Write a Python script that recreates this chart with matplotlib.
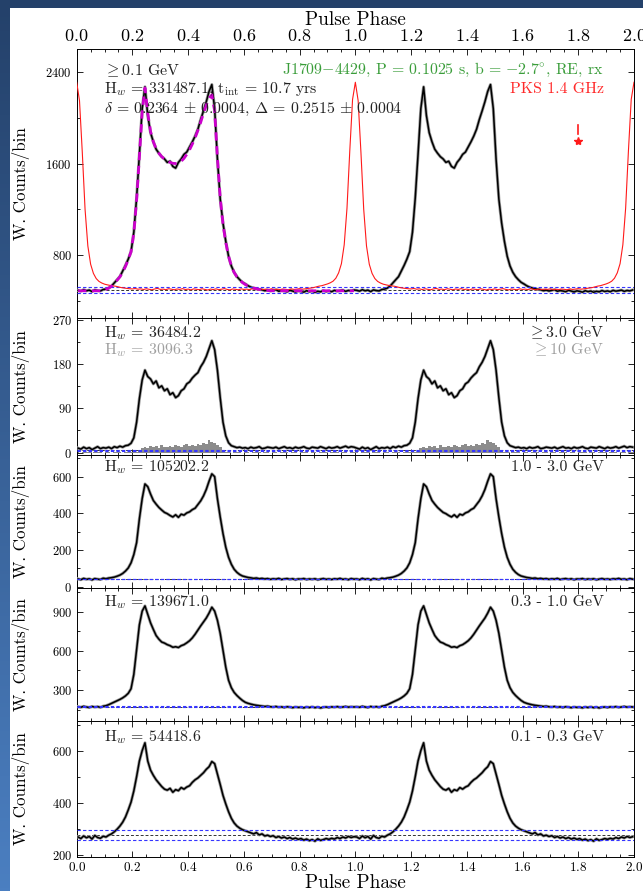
import numpy as np
import matplotlib.pyplot as plt
from matplotlib.colors import LinearSegmentedColormap
from matplotlib.patches import Rectangle
from matplotlib.ticker import MultipleLocator, NullFormatter

plt.rcParams['font.family'] = 'serif'
plt.rcParams['font.serif'] = ['cmr10', 'DejaVu Serif']
plt.rcParams['mathtext.fontset'] = 'cm'
plt.rcParams['axes.formatter.use_mathtext'] = True
plt.rcParams['axes.unicode_minus'] = False

# weighted counts per bin, 100 bins over one rotation (drawn twice)
counts_01 = [492, 485, 498, 488, 494, 481, 496, 490, 487, 499,
             503, 512, 530, 558, 585, 612, 660, 710, 765, 830,
             1000, 1300, 1680, 2080, 2270, 2020, 1870, 1790, 1725, 1690,
             1660, 1640, 1610, 1620, 1575, 1560, 1610, 1640, 1680, 1700,
             1745, 1790, 1840, 1900, 1985, 2060, 2140, 2230, 2290, 2080,
             1640, 1290, 1080, 920, 790, 705, 650, 612, 585, 562,
             548, 532, 520, 512, 506, 500, 497, 489, 494, 486,
             492, 498, 484, 490, 486, 480, 493, 485, 478, 488,
             483, 476, 489, 481, 486, 475, 484, 479, 490, 482,
             487, 480, 492, 485, 489, 494, 483, 491, 487, 495]

# two-peak model for >= 0.1 GeV (first rotation only)
model_01 = [488, 488, 488, 488, 488, 488, 488, 488, 488, 488,
            500, 512, 528, 552, 580, 610, 650, 700, 760, 830,
            990, 1280, 1660, 2050, 2260, 2040, 1880, 1790, 1730, 1690,
            1660, 1640, 1622, 1610, 1602, 1600, 1605, 1620, 1645, 1680,
            1720, 1770, 1825, 1890, 1960, 2040, 2110, 2170, 2200, 2060,
            1650, 1300, 1070, 910, 790, 705, 648, 610, 582, 560,
            543, 530, 520, 512, 506, 500, 496, 493, 491, 489,
            488, 488, 488, 488, 488, 488, 488, 488, 488, 488,
            488, 488, 488, 488, 488, 488, 488, 488, 488, 488,
            488, 488, 488, 488, 488, 488, 488, 488, 488, 488]

# Parkes 1.4 GHz profile, sampled at phase 0.00, 0.01, ... 0.99
radio_14 = [2310, 2150, 1700, 1200, 880, 720, 640, 595, 570, 556,
            546, 540, 535, 531, 528, 522, 516, 512, 509, 506,
            504, 508, 502, 505, 499, 506, 501, 497, 504, 509,
            500, 503, 498, 506, 502, 497, 504, 500, 507, 499,
            503, 496, 505, 501, 498, 506, 500, 495, 503, 499,
            505, 498, 502, 507, 500, 496, 504, 501, 497, 505,
            500, 503, 498, 506, 501, 497, 504, 499, 503, 500,
            506, 498, 502, 499, 504, 501, 497, 505, 500, 503,
            507, 502, 505, 509, 512, 516, 523, 529, 533, 540,
            548, 558, 572, 598, 645, 725, 890, 1210, 1710, 2160]

counts_3 = [9, 7, 11, 8, 10, 6, 9, 12, 8, 10,
            9, 11, 8, 12, 10, 13, 11, 14, 15, 19,
            30, 62, 110, 148, 168, 155, 150, 140, 146, 132,
            136, 126, 130, 118, 122, 112, 116, 126, 130, 140,
            144, 152, 158, 163, 175, 184, 196, 212, 228, 210,
            168, 112, 62, 34, 20, 14, 12, 10, 11, 9,
            10, 8, 11, 9, 10, 12, 8, 9, 11, 10,
            9, 11, 8, 10, 12, 9, 10, 8, 11, 9,
            10, 12, 9, 8, 11, 10, 9, 12, 10, 8,
            11, 9, 10, 12, 9, 11, 13, 10, 12, 11]

counts_10 = [1, 0, 1, 2, 1, 0, 1, 1, 2, 0,
             1, 1, 0, 2, 1, 1, 0, 1, 2, 1,
             1, 2, 3, 9, 12, 10, 14, 11, 13, 10,
             15, 12, 11, 14, 12, 16, 13, 11, 15, 17,
             14, 16, 13, 18, 15, 20, 17, 26, 22, 19,
             16, 12, 5, 1, 1, 0, 1, 2, 1, 0,
             1, 1, 0, 1, 2, 1, 0, 1, 1, 0,
             2, 1, 0, 1, 1, 2, 0, 1, 1, 0,
             1, 2, 1, 0, 1, 1, 0, 2, 1, 1,
             0, 1, 1, 2, 0, 1, 1, 0, 1, 1]

counts_1_3 = [42, 38, 45, 40, 43, 37, 44, 41, 39, 46,
              43, 47, 49, 52, 57, 63, 72, 85, 102, 130,
              175, 240, 370, 480, 560, 545, 505, 470, 450, 432,
              418, 405, 398, 388, 380, 392, 378, 395, 390, 402,
              408, 420, 428, 448, 468, 495, 530, 575, 615, 600,
              480, 380, 290, 215, 160, 122, 95, 78, 66, 58,
              54, 50, 48, 45, 47, 43, 45, 42, 44, 40,
              43, 41, 45, 39, 42, 44, 40, 43, 38, 42,
              41, 44, 39, 42, 40, 43, 38, 41, 44, 40,
              42, 39, 43, 41, 45, 40, 42, 38, 44, 41]

counts_03_1 = [172, 168, 175, 170, 166, 174, 169, 173, 167, 176,
               180, 188, 198, 208, 218, 228, 240, 255, 275, 310,
               420, 610, 800, 905, 945, 880, 815, 765, 718, 690,
               668, 660, 648, 640, 628, 632, 626, 640, 648, 662,
               678, 700, 728, 760, 792, 822, 852, 890, 935, 905,
               835, 735, 605, 475, 375, 318, 282, 258, 238, 220,
               206, 198, 192, 187, 183, 180, 177, 174, 176, 172,
               170, 174, 168, 171, 166, 172, 169, 165, 170, 167,
               168, 164, 170, 166, 171, 165, 169, 163, 168, 170,
               166, 171, 168, 173, 167, 170, 174, 169, 172, 170]

counts_01_03 = [268, 262, 272, 265, 270, 260, 274, 266, 263, 271,
                268, 275, 280, 288, 298, 310, 325, 345, 372, 402,
                445, 500, 560, 600, 630, 560, 525, 505, 488, 475,
                462, 452, 448, 455, 440, 450, 446, 458, 452, 460,
                465, 478, 488, 495, 505, 515, 528, 538, 558, 550,
                510, 470, 428, 395, 365, 340, 322, 310, 302, 296,
                292, 288, 284, 280, 285, 276, 280, 272, 275, 270,
                273, 266, 270, 264, 268, 262, 266, 260, 264, 259,
                262, 256, 260, 254, 258, 252, 261, 255, 258, 262,
                259, 263, 260, 266, 262, 268, 264, 270, 266, 269]

# per panel, top to bottom
panel_counts = [counts_01, counts_3, counts_1_3, counts_03_1, counts_01_03]
hw_values = ['331487.1', '36484.2', '105202.2', '139671.0', '54418.6']
energy_labels = [r'$\geq$0.1 GeV', r'$\geq$3.0 GeV', '1.0 - 3.0 GeV',
                 '0.3 - 1.0 GeV', '0.1 - 0.3 GeV']
bkg_low = [470, 3, 40, 168, 257]
bkg_mid = [494, 4.5, 42, 172, 276]
bkg_high = [518, 6, 44, 177, 295]
ylims = [(253, 2598), (-5, 275), (-9, 718), (65, 1080), (190, 715)]
ymajor = [800, 90, 200, 300, 200]

radio_marker_phase = 1.8
radio_marker_val = 1800
radio_marker_bar = [1860, 1940]

FS = 11.4


def style_axis(ax, major, ylim):
	ax.set_xlim(0, 2)
	ax.set_ylim(*ylim)
	ax.xaxis.set_major_locator(MultipleLocator(0.2))
	ax.xaxis.set_minor_locator(MultipleLocator(0.05))
	ax.yaxis.set_major_locator(MultipleLocator(major))
	ax.yaxis.set_minor_locator(MultipleLocator(major / 2))
	ax.tick_params(which='both', direction='in', top=True, right=True,
				   width=0.6, labelsize=9, pad=3.5)
	ax.tick_params(which='major', length=4)
	ax.tick_params(which='minor', length=2.3)
	for sp in ax.spines.values():
		sp.set_linewidth(0.7)
	ax.set_ylabel('W. Counts/bin', fontsize=12.2)
	ax.yaxis.set_label_coords(-0.083, 0.5)


def main():
	W, H = 643, 891
	fig = plt.figure(figsize=(W / 100, H / 100), dpi=100)

	# slide background: dark strip on top, blue gradient on the left
	bg = fig.add_axes([0, 0, 1, 1], zorder=-10)
	cmap = LinearSegmentedColormap.from_list('slide', ['#4b7fc1', '#24416a'])
	grad = np.linspace(0, 1, 256).reshape(-1, 1)
	bg.imshow(grad, aspect='auto', extent=[0, 1, 0, 1], cmap=cmap, origin='lower')
	bg.add_patch(Rectangle((10 / W, 0), 1, 1 - 8 / H, facecolor='white',
						   edgecolor='none', transform=bg.transAxes))
	bg.axis('off')

	left = 76.7 / W
	width = (634 - 76.7) / W
	edges_px = [49.3, 317.7, 455, 588.3, 720.7, 857.3]

	nb = len(counts_01)
	edges = np.linspace(0, 2, 2 * nb + 1)
	centers = 0.5 * (edges[:-1] + edges[1:])

	axes = []
	for i in range(5):
		top, bot = edges_px[i], edges_px[i + 1]
		ax = fig.add_axes([left, 1 - bot / H, width, (bot - top) / H])
		axes.append(ax)
		style_axis(ax, ymajor[i], ylims[i])

		vals = np.tile(panel_counts[i], 2)
		ax.plot(centers, vals, color='#9a9a9a', lw=2.2, zorder=3)
		ax.plot(centers, vals, color='black', lw=1.1, zorder=4)

		ax.axhline(bkg_low[i], color='#3535ff', lw=0.8, ls=(0, (3, 2)), zorder=5)
		ax.axhline(bkg_high[i], color='#3535ff', lw=0.8, ls=(0, (3, 2)), zorder=5)
		ax.axhline(bkg_mid[i], color='#333333', lw=0.7, ls=(0, (3, 2)), zorder=2)

		if i == 0:
			ax.xaxis.set_label_position('top')
			ax.tick_params(labeltop=True, labelbottom=False, which='both')
			ax.tick_params(axis='x', labelsize=13, pad=4)
			ax.set_xlabel('Pulse Phase', fontsize=13.8, labelpad=2)
		elif i == 4:
			ax.tick_params(axis='x', labelsize=9.5, pad=3)
			ax.set_xlabel('Pulse Phase', fontsize=13.8, labelpad=0)
		else:
			ax.xaxis.set_major_formatter(NullFormatter())

	# top panel: radio profile, fit and header text
	ax = axes[0]
	rphase = np.linspace(0, 2, 2 * nb + 1)
	rvals = np.append(np.tile(radio_14, 2), radio_14[0])
	ax.plot(rphase, rvals, color='#ff1a1a', lw=0.8, zorder=6)
	ax.plot(centers[:nb], model_01, color='#cc00cc', lw=2.0,
			ls=(0, (3, 2)), zorder=7)
	ax.plot(radio_marker_phase, radio_marker_val, marker='*', color='#ff1a1a',
			ms=6, ls='none')
	ax.plot([radio_marker_phase] * 2, radio_marker_bar, color='#ff1a1a', lw=1.2)

	tx, rx = 0.0485, 0.946
	ax.text(tx, 0.923, energy_labels[0], transform=ax.transAxes, fontsize=FS,
			va='center', color='#222222', zorder=8)
	ax.text(tx, 0.852, r'H$_w$ = ' + hw_values[0] + r', t$_{\rm int}$ = 10.7 yrs',
			transform=ax.transAxes, fontsize=FS, va='center', color='#222222', zorder=8)
	ax.text(tx, 0.774, r'$\delta$ = 0.2364 $\pm$ 0.0004, $\Delta$ = 0.2515 $\pm$ 0.0004',
			transform=ax.transAxes, fontsize=FS, va='center', color='#222222', zorder=8)
	ax.text(rx, 0.923, r'J1709$-$4429, P = 0.1025 s, b = $-$2.7$^{\circ}$, RE, rx',
			transform=ax.transAxes, fontsize=FS, va='center', ha='right',
			color='#3a9d3a', zorder=8)
	ax.text(rx, 0.852, 'PKS 1.4 GHz', transform=ax.transAxes, fontsize=FS,
			va='center', ha='right', color='#ff2a2a', zorder=8)

	# >= 10 GeV photons on the second panel
	ax = axes[1]
	ax.stairs(np.tile(counts_10, 2), edges, color='#8c8c8c', fill=True, zorder=2.5)
	ax.text(tx, 0.886, r'H$_w$ = ' + hw_values[1], transform=ax.transAxes,
			fontsize=FS, va='center', color='#222222')
	ax.text(tx, 0.76, r'H$_w$ = 3096.3', transform=ax.transAxes,
			fontsize=FS, va='center', color='#a0a0a0')
	ax.text(rx, 0.896, energy_labels[1], transform=ax.transAxes, fontsize=FS,
			va='center', ha='right', color='#222222')
	ax.text(rx, 0.772, r'$\geq$10 GeV', transform=ax.transAxes, fontsize=FS,
			va='center', ha='right', color='#a0a0a0')

	text_y = [None, None, 0.912, 0.894, 0.883]
	for i in range(2, 5):
		ax = axes[i]
		ax.text(tx, text_y[i], r'H$_w$ = ' + hw_values[i], transform=ax.transAxes,
				fontsize=FS, va='center', color='#222222', zorder=8)
		ax.text(rx, text_y[i], energy_labels[i], transform=ax.transAxes,
				fontsize=FS, va='center', ha='right', color='#222222', zorder=8)

	fig.savefig('out.png', dpi=100)


if __name__ == '__main__':
	main()
